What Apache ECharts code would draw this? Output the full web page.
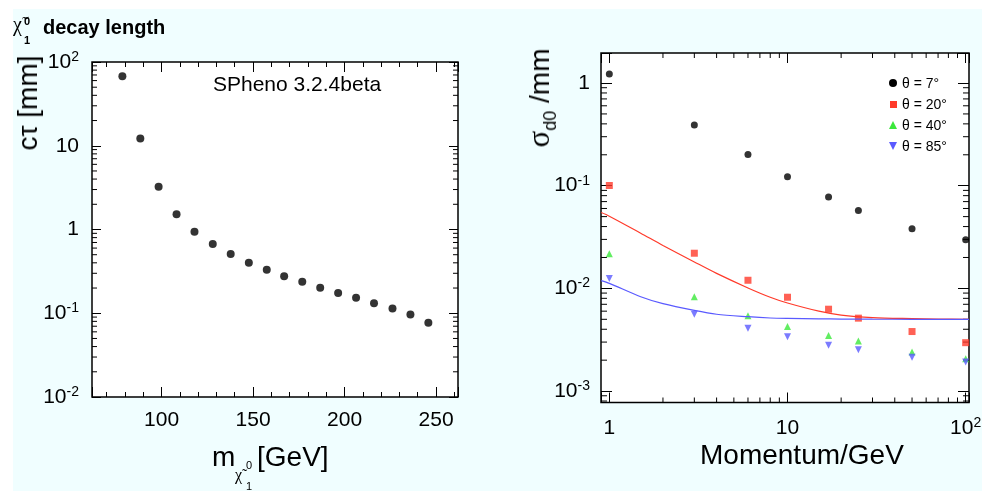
<!DOCTYPE html>
<html>
<head>
<meta charset="utf-8">
<script src="https://cdn.jsdelivr.net/npm/echarts@6/dist/echarts.min.js"></script>
<style>
  html, body { margin: 0; padding: 0; background: #ffffff; }
  #bg { position: absolute; left: 13px; top: 9px; width: 969px; height: 482px; background: #F0FEFF; }
  #chart { position: absolute; left: 0; top: 0; width: 991px; height: 493px; }
  .ov { position: absolute; white-space: nowrap; color: #000; z-index: 5; font-family: 'Liberation Sans', Arial, sans-serif; }
  .mk { position: absolute; z-index: 6; }
</style>
</head>
<body>
<div id="bg"></div>
<div id="chart"></div>
<script>
// ---------- Left panel data: neutralino decay length ----------
const massGeV = [78.6, 88.4, 98.4, 108.2, 118, 128, 137.8, 147.7, 157.5, 167, 176.9, 186.7, 196.5, 206.3, 216.1, 226.2, 236, 245.8];
const ctauMM  = [67.8, 12.2, 3.23, 1.52, 0.94, 0.67, 0.51, 0.40, 0.33, 0.277, 0.237, 0.201, 0.175, 0.153, 0.132, 0.114, 0.0968, 0.077];

// ---------- Right panel data: d0 resolution ----------
const momentum = [1, 3, 6, 10, 17, 25, 50, 100];
const sigTheta7  = [1.224, 0.39, 0.201, 0.122, 0.0774, 0.0573, 0.038, 0.0297];
const sigTheta20 = [0.1005, 0.0220, 0.0120, 0.0082, 0.00627, 0.00513, 0.00380, 0.00296];
const sigTheta40 = [0.0217, 0.0083, 0.0054, 0.00425, 0.00347, 0.00308, 0.0024, 0.00207];
const sigTheta85 = [0.01246, 0.00561, 0.00409, 0.00339, 0.00279, 0.00252, 0.00213, 0.00192];
const seriesNames = ['θ = 7°', 'θ = 20°', 'θ = 40°', 'θ = 85°'];
const seriesColors = ['#000000', '#FF3A2A', '#3BE83B', '#5A5AFF'];

// curves
const curveP     = [0.9, 1, 1.5, 2, 3, 4, 6, 8, 10, 15, 20, 30, 50, 70, 104.4];
const curveRed   = [0.0548, 0.0505, 0.0345, 0.0262, 0.0181, 0.0140, 0.0101, 0.0082, 0.0072, 0.0060, 0.0055, 0.0052, 0.00508, 0.00503, 0.0050];
const curveBlue  = [0.0119, 0.0112, 0.0083, 0.0071, 0.0061, 0.0056, 0.0053, 0.00515, 0.0051, 0.00505, 0.00503, 0.00501, 0.0050, 0.0050, 0.0050];

// axis ranges
const leftX  = [62, 262];
const leftY  = [0.01, 100];
const rightX = [0.898, 104.4];
const rightY = [7.74e-4, 1.96];

// minor tick values for the log axes
const leftYMinor  = [0.02,0.03,0.04,0.05,0.06,0.07,0.08,0.09, 0.2,0.3,0.4,0.5,0.6,0.7,0.8,0.9, 2,3,4,5,6,7,8,9, 20,30,40,50,60,70,80,90];
const rightYMinor = [8e-4,9e-4, 2e-3,3e-3,4e-3,5e-3,6e-3,7e-3,8e-3,9e-3, 0.02,0.03,0.04,0.05,0.06,0.07,0.08,0.09, 0.2,0.3,0.4,0.5,0.6,0.7,0.8,0.9];
const rightXMinor = [2,3,4,5,6,7,8,9, 20,30,40,50,60,70,80,90];

const FONT = 'Liberation Sans, Arial, Helvetica, sans-serif';

function zip(xs, ys) { return xs.map((x, i) => [x, ys[i]]); }

function powLabel(v) {
  const l = Math.log10(v);
  const e = Math.round(l);
  if (Math.abs(l - e) > 1e-6) return '';
  if (e === 0) return '1';
  if (e === 1) return '10';
  return '10{s|' + e + '}';
}
const labelRich = { s: { fontSize: 14, fontFamily: FONT, color: '#000', verticalAlign: 'top', lineHeight: 12 } };

function yTickSeries(xi, yi, values, xr, len) {
  return {
    type: 'custom', xAxisIndex: xi, yAxisIndex: yi,
    data: values.map(v => [xr[0], v]),
    renderItem: function (params, api) {
      const v = api.value(1);
      const a = api.coord([xr[0], v]);
      const b = api.coord([xr[1], v]);
      return { type: 'group', children: [
        { type: 'line', shape: { x1: a[0], y1: a[1], x2: a[0] + len, y2: a[1] }, style: { stroke: '#000', lineWidth: 1 } },
        { type: 'line', shape: { x1: b[0], y1: b[1], x2: b[0] - len, y2: b[1] }, style: { stroke: '#000', lineWidth: 1 } }
      ] };
    }
  };
}
function xTickSeries(xi, yi, values, yr, len) {
  return {
    type: 'custom', xAxisIndex: xi, yAxisIndex: yi,
    data: values.map(v => [v, yr[0]]),
    renderItem: function (params, api) {
      const v = api.value(0);
      const a = api.coord([v, yr[0]]);
      const b = api.coord([v, yr[1]]);
      return { type: 'group', children: [
        { type: 'line', shape: { x1: a[0], y1: a[1], x2: a[0], y2: a[1] - len }, style: { stroke: '#000', lineWidth: 1 } },
        { type: 'line', shape: { x1: b[0], y1: b[1], x2: b[0], y2: b[1] + len }, style: { stroke: '#000', lineWidth: 1 } }
      ] };
    }
  };
}

const tickStyle = { lineStyle: { color: '#000', width: 1 } };
const symbols = ['circle', 'rect', 'triangle', 'path://M0,0L10,0L5,9Z'];

const chart = echarts.init(document.getElementById('chart'));

const option = {
  animation: false,
  backgroundColor: 'transparent',
  grid: [
    { left: 92, top: 62, width: 366, height: 335, show: true, backgroundColor: '#ffffff', borderColor: '#000', borderWidth: 1.5 },
    { left: 601, top: 53, width: 368, height: 349.5, show: true, backgroundColor: '#ffffff', borderColor: '#000', borderWidth: 1.5 }
  ],
  xAxis: [
    { gridIndex: 0, type: 'value', min: leftX[0], max: leftX[1], splitNumber: 4, position: 'bottom',
      axisLine: { show: false }, splitLine: { show: false },
      axisTick: { show: true, inside: true, length: 10, ...tickStyle },
      minorTick: { show: true, splitNumber: 5, length: 5, ...tickStyle },
      axisLabel: { show: true, showMinLabel: false, showMaxLabel: false, fontSize: 21, color: '#000', fontFamily: FONT, margin: 13 } },
    { gridIndex: 0, type: 'value', min: leftX[0], max: leftX[1], splitNumber: 4, position: 'top',
      axisLine: { show: false }, splitLine: { show: false },
      axisTick: { show: true, inside: true, length: 10, ...tickStyle },
      minorTick: { show: true, splitNumber: 5, length: 5, ...tickStyle },
      axisLabel: { show: false } },
    { gridIndex: 1, type: 'log', min: rightX[0], max: rightX[1], position: 'bottom',
      axisLine: { show: false }, splitLine: { show: false },
      axisTick: { show: true, inside: true, length: 10, ...tickStyle },
      axisLabel: { show: true, fontSize: 21, color: '#000', fontFamily: FONT, margin: 14, lineHeight: 24, formatter: powLabel, rich: labelRich } },
    { gridIndex: 1, type: 'log', min: rightX[0], max: rightX[1], position: 'top',
      axisLine: { show: false }, splitLine: { show: false },
      axisTick: { show: true, inside: true, length: 10, ...tickStyle },
      axisLabel: { show: false } }
  ],
  yAxis: [
    { gridIndex: 0, type: 'log', min: leftY[0], max: leftY[1], position: 'left',
      axisLine: { show: false }, splitLine: { show: false },
      axisTick: { show: true, inside: true, length: 9, ...tickStyle },
      axisLabel: { show: true, fontSize: 21, color: '#000', fontFamily: FONT, margin: 13, lineHeight: 24, formatter: powLabel, rich: labelRich } },
    { gridIndex: 0, type: 'log', min: leftY[0], max: leftY[1], position: 'right',
      axisLine: { show: false }, splitLine: { show: false },
      axisTick: { show: true, inside: true, length: 9, ...tickStyle },
      axisLabel: { show: false } },
    { gridIndex: 1, type: 'log', min: rightY[0], max: rightY[1], position: 'left',
      axisLine: { show: false }, splitLine: { show: false },
      axisTick: { show: true, inside: true, length: 11, ...tickStyle },
      axisLabel: { show: true, fontSize: 21, color: '#000', fontFamily: FONT, margin: 11, lineHeight: 24, formatter: powLabel, rich: labelRich } },
    { gridIndex: 1, type: 'log', min: rightY[0], max: rightY[1], position: 'right',
      axisLine: { show: false }, splitLine: { show: false },
      axisTick: { show: true, inside: true, length: 11, ...tickStyle },
      axisLabel: { show: false } }
  ],
  series: [
    { type: 'scatter', name: 'ctau', xAxisIndex: 0, yAxisIndex: 0, symbol: 'circle', symbolSize: 8,
      itemStyle: { color: '#000' }, data: zip(massGeV, ctauMM) },
    yTickSeries(0, 0, leftYMinor, leftX, 5),
    yTickSeries(2, 2, rightYMinor, rightX, 6),
    xTickSeries(2, 2, rightXMinor, rightY, 5),
    { type: 'line', name: 'fitRed', xAxisIndex: 2, yAxisIndex: 2, symbol: 'none', smooth: 0.3,
      lineStyle: { color: '#FF3A2A', width: 1.2 }, data: zip(curveP, curveRed) },
    { type: 'line', name: 'fitBlue', xAxisIndex: 2, yAxisIndex: 2, symbol: 'none', smooth: 0.3,
      lineStyle: { color: '#5A5AFF', width: 1.2 }, data: zip(curveP, curveBlue) },
    { type: 'scatter', name: seriesNames[0], xAxisIndex: 2, yAxisIndex: 2, symbol: symbols[0], symbolSize: 7,
      itemStyle: { color: seriesColors[0] }, data: zip(momentum, sigTheta7) },
    { type: 'scatter', name: seriesNames[1], xAxisIndex: 2, yAxisIndex: 2, symbol: symbols[1], symbolSize: 7,
      itemStyle: { color: seriesColors[1] }, data: zip(momentum, sigTheta20) },
    { type: 'scatter', name: seriesNames[2], xAxisIndex: 2, yAxisIndex: 2, symbol: symbols[2], symbolSize: 7,
      itemStyle: { color: seriesColors[2] }, data: zip(momentum, sigTheta40) },
    { type: 'scatter', name: seriesNames[3], xAxisIndex: 2, yAxisIndex: 2, symbol: symbols[3], symbolSize: 7,
      itemStyle: { color: seriesColors[3] }, data: zip(momentum, sigTheta85) }
  ]
};
chart.setOption(option);

// ---------- titles and legend as real HTML text ----------
const texts = [
  { left: 13, top: 14, text: 'χ̃', size: 20, serif: true },
  { left: 24, top: 16, text: '0', size: 11, bold: true },
  { left: 24, top: 35, text: '1', size: 11, bold: true },
  { left: 43, top: 17, text: 'decay length', size: 20, bold: true },
  { left: 213, top: 73, text: 'SPheno 3.2.4beta', size: 21 },
  { left: 212, top: 443, text: 'm', size: 28 },
  { left: 235, top: 467, text: 'χ̃', size: 16, serif: true },
  { left: 246, top: 460, text: '0', size: 11 },
  { left: 246, top: 481, text: '1', size: 11 },
  { left: 257, top: 443, text: '[GeV]', size: 28 },
  { left: 700, top: 441, text: 'Momentum/GeV', size: 28 }
];
texts.forEach(t => {
  const d = document.createElement('div');
  d.className = 'ov';
  d.style.left = t.left + 'px'; d.style.top = t.top + 'px';
  d.style.fontSize = t.size + 'px'; d.style.lineHeight = t.size + 'px';
  if (t.bold) d.style.fontWeight = 'bold';
  if (t.serif) d.style.fontFamily = "'Liberation Serif', serif";
  d.textContent = t.text;
  document.body.appendChild(d);
});
const r1 = document.createElement('div');
r1.className = 'ov';
r1.style.cssText += 'left:28px;top:103px;font-size:28px;line-height:28px;transform:translate(-50%,-50%) rotate(-90deg);';
r1.textContent = 'cτ [mm]';
document.body.appendChild(r1);
const r2 = document.createElement('div');
r2.className = 'ov';
r2.style.cssText += 'left:541px;top:98px;font-size:28px;line-height:32px;transform:translate(-50%,-50%) rotate(-90deg);';
r2.innerHTML = '<span style="font-family:\'Liberation Serif\',serif;font-size:31px">σ</span><span style="font-size:18px;position:relative;top:7px">d0</span> /mm';
document.body.appendChild(r2);

const clips = ['circle(50% at 50% 50%)', 'none', 'polygon(50% 0, 100% 100%, 0 100%)', 'polygon(0 0, 100% 0, 50% 100%)'];
const mkSize = [8, 7, 8, 8];
seriesNames.forEach((n, i) => {
  const cy = 83 + i * 21;
  const m = document.createElement('div');
  m.className = 'mk';
  const s = mkSize[i];
  m.style.cssText += 'left:' + (893 - s / 2) + 'px;top:' + (cy - s / 2) + 'px;width:' + s + 'px;height:' + s + 'px;background:' + seriesColors[i] + ';clip-path:' + clips[i] + ';';
  document.body.appendChild(m);
  const d = document.createElement('div');
  d.className = 'ov';
  d.style.left = '902px'; d.style.top = (cy - 8) + 'px';
  d.style.fontSize = '14px'; d.style.lineHeight = '16px';
  d.textContent = n;
  document.body.appendChild(d);
});
</script>
</body>
</html>
